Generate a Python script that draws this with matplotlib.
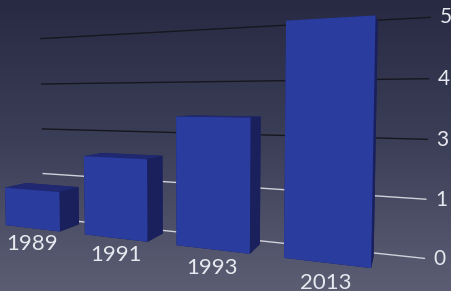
import matplotlib
matplotlib.use("Agg")
import matplotlib.pyplot as plt
import numpy as np
from matplotlib.colors import LinearSegmentedColormap

# data
years = ["1989", "1991", "1993", "2013"]
heights = [0.8, 1.55, 2.35, 3.95]          # bar height in grid steps
tick_pos = [0, 1, 2, 3, 4]
tick_labels = ["0", "1", "3", "4", "5"]

fig = plt.figure(figsize=(4.51, 2.91), dpi=100)

# background gradient
bg = fig.add_axes([0, 0, 1, 1])
grad = np.linspace(0, 1, 256).reshape(-1, 1)
cmap = LinearSegmentedColormap.from_list("bg", ["#282a43", "#3c3f58", "#5b5e73"])
bg.imshow(grad, aspect="auto", cmap=cmap, extent=[0, 1, 0, 1], origin="upper")
bg.axis("off")

ax = fig.add_axes([-0.385, -0.36, 1.634, 1.806], projection="3d", computed_zorder=False)
ax.set_facecolor((0, 0, 0, 0))
ax.set_axis_off()
ax.set_proj_type("persp", focal_length=0.18)
ax.view_init(elev=3, azim=-68)

x = np.arange(len(years))
dx = 0.7
dy = 0.3
wall_y = 0.4

ax.set_xlim(-0.56, 4.06)
ax.set_ylim(-0.3, 1.0)
ax.set_zlim(0.12, 4.18)
ax.set_box_aspect((4.3, 1.3, 1.9))

# grid lines on the back wall (lower ones catch the light)
for p, lab in zip(tick_pos, tick_labels):
    col = "#d0d0da" if p < 2 else "#16171f"
    ax.plot([-0.2, 3.75], [wall_y, wall_y], [p, p], color=col, lw=1.0, zorder=1)
    ax.text(3.82, wall_y, p, lab, color="#e8e8f0",
            fontsize=15, family="Lato", ha="left", va="center", zorder=5)

# bars
face_cols = []
for i in range(len(years)):
    # bottom, top, front, back, left, right
    face_cols += ["#141a4a", "#1f2870", "#2b3c9f", "#1a2266", "#1a2266", "#19205c"]
ax.bar3d(x - dx / 2, np.zeros(len(x)), np.zeros(len(x)), dx, dy, heights,
         color=face_cols, shade=False, zorder=3)

for xi, yr in zip(x, years):
    ax.text(xi, 0, -0.33, yr, color="#e8e8f0", fontsize=16, family="Lato",
            ha="center", va="center", zorder=5)

fig.savefig("out.png", dpi=100)
